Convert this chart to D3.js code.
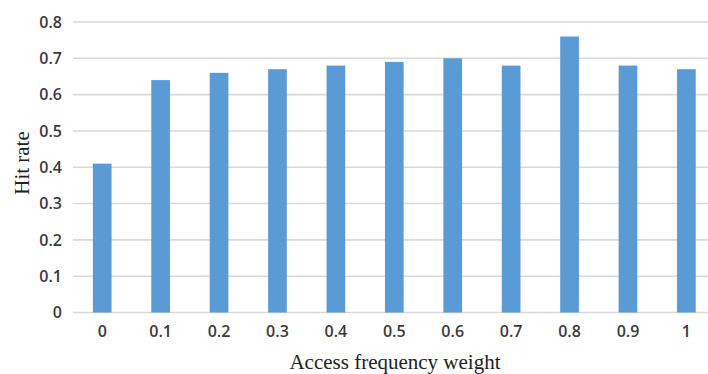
<!DOCTYPE html>
<html><head><meta charset="utf-8">
<script src="https://cdn.jsdelivr.net/npm/d3@7"></script>
<style>body{margin:0;background:#fff}</style>
</head><body>
<svg id="c" width="708" height="374"></svg>
<script>
const categories = ["0","0.1","0.2","0.3","0.4","0.5","0.6","0.7","0.8","0.9","1"];
const hitRate = [0.41,0.64,0.66,0.67,0.68,0.69,0.70,0.68,0.76,0.68,0.67];
const yTicks = [0,0.1,0.2,0.3,0.4,0.5,0.6,0.7,0.8];

const svg = d3.select("#c");
const plotL = 73, plotR = 715.6, plotT = 22, plotB = 312.5;
const x = d3.scaleBand().domain(categories).range([plotL, plotR]).paddingInner(0.68).paddingOuter(0.34);
const y = d3.scaleLinear().domain([0, 0.8]).range([plotB, plotT]);

// gridlines
svg.append("g").selectAll("line").data(yTicks).join("line")
  .attr("x1", plotL).attr("x2", 708)
  .attr("y1", d => y(d)).attr("y2", d => y(d))
  .attr("stroke", "#d9d9d9").attr("stroke-width", 1.6);

// y axis labels
const yAxis = d3.axisLeft(y).tickValues(yTicks).tickSize(0).tickPadding(0).tickFormat(d => d === 0 ? "0" : d3.format(".1f")(d));
const gy = svg.append("g").attr("transform", `translate(${62},0)`).call(yAxis);
gy.select(".domain").remove();
gy.selectAll("text").attr("font-family", "Open Sans").attr("font-size", 16).attr("fill", "#3a3a3a").attr("font-weight", 600);

// bars
svg.append("g").selectAll("rect").data(hitRate).join("rect")
  .attr("x", (d, i) => x(categories[i]))
  .attr("width", x.bandwidth())
  .attr("y", d => y(d))
  .attr("height", d => y(0) - y(d))
  .attr("fill", "#5b9bd5");

// x axis labels
const xAxis = d3.axisBottom(x).tickSize(0).tickPadding(0);
const gx = svg.append("g").attr("transform", `translate(0,${326})`).call(xAxis);
gx.select(".domain").remove();
gx.selectAll("text").attr("font-family", "Open Sans").attr("font-size", 16).attr("fill", "#3a3a3a").attr("font-weight", 600);

// titles
svg.append("text").attr("x", 395).attr("y", 369).attr("text-anchor", "middle")
  .attr("font-family", "Liberation Serif").attr("font-size", 21).attr("fill", "#222")
  .text("Access frequency weight");
svg.append("text").attr("transform", "translate(29,163) rotate(-90)").attr("text-anchor", "middle")
  .attr("font-family", "Liberation Serif").attr("font-size", 21).attr("fill", "#222")
  .text("Hit rate");
</script>
</body></html>
